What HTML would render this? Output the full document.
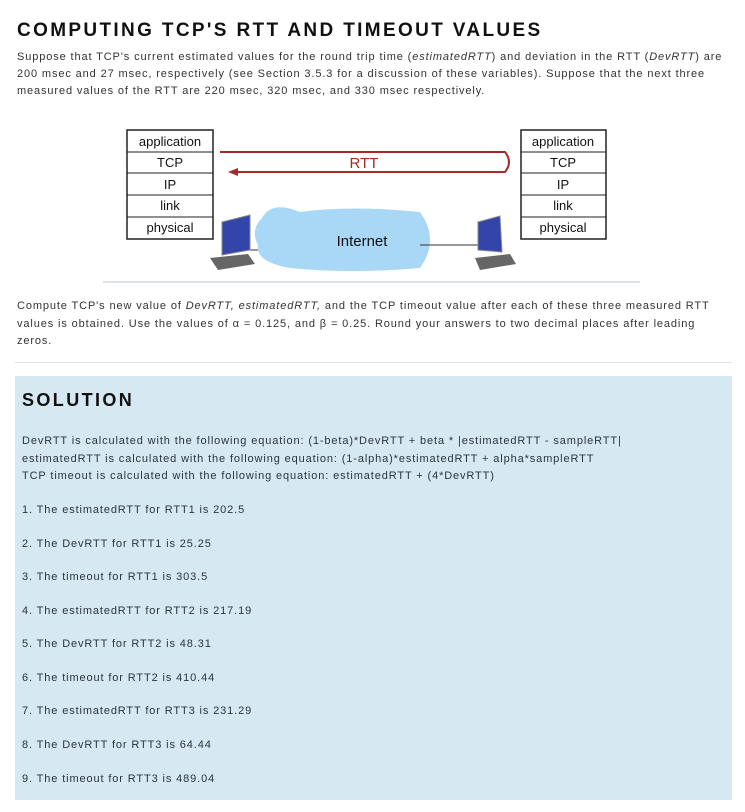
<!DOCTYPE html>
<html><head><style>
body{margin:0;background:#fff;font-family:"Liberation Sans",Arial,sans-serif;}
.t{position:absolute;white-space:nowrap;font-size:11px;letter-spacing:0.88px;color:#333;}
h1{position:absolute;left:17px;top:20px;margin:0;font-size:19px;letter-spacing:2.35px;font-weight:bold;color:#111;}
.box{position:absolute;left:15px;top:376px;width:717px;height:424px;background:#d6e8f2;}
.s{color:#2b3440;}
</style></head><body>
<h1>COMPUTING TCP'S RTT AND TIMEOUT VALUES</h1>
<div class="t" style="left:17px;top:51px">Suppose that TCP's current estimated values for the round trip time (<i>estimatedRTT</i>) and deviation in the RTT (<i>DevRTT</i>) are</div>
<div class="t" style="left:17px;top:68px">200 msec and 27 msec, respectively (see Section 3.5.3 for a discussion of these variables). Suppose that the next three</div>
<div class="t" style="left:17px;top:85px">measured values of the RTT are 220 msec, 320 msec, and 330 msec respectively.</div>

<svg style="position:absolute;left:0;top:0" width="745" height="300">
<g font-family="Liberation Sans, sans-serif" font-size="13" text-anchor="middle" fill="#111">
<rect x="127" y="130" width="86" height="109" fill="#fff" stroke="#222" stroke-width="1.5"/>
<line x1="127" y1="152" x2="213" y2="152" stroke="#222"/><line x1="127" y1="173" x2="213" y2="173" stroke="#222"/>
<line x1="127" y1="195" x2="213" y2="195" stroke="#222"/><line x1="127" y1="217" x2="213" y2="217" stroke="#222"/>
<text x="170" y="146">application</text><text x="170" y="167">TCP</text><text x="170" y="189">IP</text><text x="170" y="210">link</text><text x="170" y="232">physical</text>
<rect x="521" y="130" width="85" height="109" fill="#fff" stroke="#222" stroke-width="1.5"/>
<line x1="521" y1="152" x2="606" y2="152" stroke="#222"/><line x1="521" y1="173" x2="606" y2="173" stroke="#222"/>
<line x1="521" y1="195" x2="606" y2="195" stroke="#222"/><line x1="521" y1="217" x2="606" y2="217" stroke="#222"/>
<text x="563" y="146">application</text><text x="563" y="167">TCP</text><text x="563" y="189">IP</text><text x="563" y="210">link</text><text x="563" y="232">physical</text>
<path d="M220 152 H505 Q513 162 505 172 H235" fill="none" stroke="#a52a2a" stroke-width="2"/>
<path d="M228 172 L238 168 L238 176 Z" fill="#a52a2a"/>
<text x="364" y="168" fill="#a52a2a" font-size="15">RTT</text>
<path d="M262 218 Q272 200 300 212 Q350 205 420 212 Q440 240 420 268 Q350 274 290 268 Q255 262 258 245 Q250 230 262 218Z" fill="#a8d8f5"/>
<text x="362" y="246" font-size="15">Internet</text>
<line x1="240" y1="250" x2="258" y2="250" stroke="#333"/><line x1="420" y1="245" x2="478" y2="245" stroke="#333"/>
<polygon points="222,222 250,215 250,250 222,255" fill="#3344aa" stroke="#888"/>
<polygon points="210,258 248,254 255,264 218,270" fill="#666"/>
<polygon points="478,222 500,216 502,252 478,250" fill="#3344aa" stroke="#888"/>
<polygon points="475,258 510,254 516,264 480,270" fill="#666"/>
<line x1="103" y1="282" x2="640" y2="282" stroke="#b8c6d6"/>
</g></svg>

<div class="t" style="left:17px;top:300px">Compute TCP's new value of <i>DevRTT, estimatedRTT,</i> and the TCP timeout value after each of these three measured RTT</div>
<div class="t" style="left:17px;top:318px">values is obtained. Use the values of α = 0.125, and β = 0.25. Round your answers to two decimal places after leading</div>
<div class="t" style="left:17px;top:335px">zeros.</div>
<div style="position:absolute;left:15px;top:362px;width:717px;height:1px;background:#e2e2e2"></div>

<div class="box"></div>
<div style="position:absolute;left:22px;top:390px;font-size:18px;font-weight:bold;letter-spacing:2.4px;color:#111">SOLUTION</div>
<div class="t s" style="left:22px;top:435px">DevRTT is calculated with the following equation: (1-beta)*DevRTT + beta * |estimatedRTT - sampleRTT|</div>
<div class="t s" style="left:22px;top:453px">estimatedRTT is calculated with the following equation: (1-alpha)*estimatedRTT + alpha*sampleRTT</div>
<div class="t s" style="left:22px;top:470px">TCP timeout is calculated with the following equation: estimatedRTT + (4*DevRTT)</div>
<div class="t s" style="left:22px;top:504px">1. The estimatedRTT for RTT1 is 202.5</div>
<div class="t s" style="left:22px;top:538px">2. The DevRTT for RTT1 is 25.25</div>
<div class="t s" style="left:22px;top:571px">3. The timeout for RTT1 is 303.5</div>
<div class="t s" style="left:22px;top:605px">4. The estimatedRTT for RTT2 is 217.19</div>
<div class="t s" style="left:22px;top:638px">5. The DevRTT for RTT2 is 48.31</div>
<div class="t s" style="left:22px;top:672px">6. The timeout for RTT2 is 410.44</div>
<div class="t s" style="left:22px;top:705px">7. The estimatedRTT for RTT3 is 231.29</div>
<div class="t s" style="left:22px;top:739px">8. The DevRTT for RTT3 is 64.44</div>
<div class="t s" style="left:22px;top:773px">9. The timeout for RTT3 is 489.04</div>
</body></html>
